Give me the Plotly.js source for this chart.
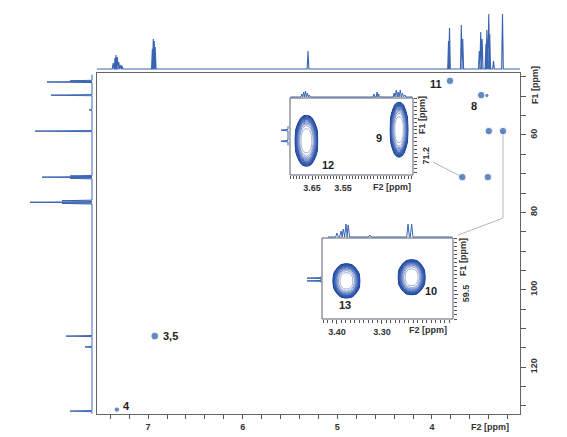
<!DOCTYPE html>
<html><head><meta charset="utf-8">
<script src="https://cdn.plot.ly/plotly-3.0.1.min.js"></script>
<style>html,body{margin:0;padding:0;background:#fff}#chart{width:567px;height:437px}</style>
</head><body><div id="chart"></div>
<script>
// ---------------- data ----------------
// HSQC cross peaks (F2 = 1H ppm, F1 = 13C ppm)
const peakF2 = [3.81, 3.48, 3.42, 3.40, 3.25, 3.68, 3.41, 6.93, 7.33];
const peakF1 = [46.0, 49.7, 49.8, 59.0, 59.0, 70.9, 70.9, 112.0, 131.0];
const peakRel = [1, 1, 0.35, 1, 1, 1, 1, 1.05, 0.55];

// 1H projection (top)
const h1Shift = [7.37, 7.35, 7.34, 7.325, 7.31, 7.29, 7.275, 6.955, 6.945, 6.935, 6.925, 5.31,
                 3.825, 3.815, 3.69, 3.675, 3.50, 3.485, 3.47, 3.43, 3.42, 3.40, 3.39, 3.35, 3.255];
const h1Int   = [6, 11, 14, 12, 7, 4, 3, 20, 30, 28, 22, 18,
                 28, 41, 44, 30, 18, 37, 30, 25, 39, 55, 35, 8, 55];

// 13C projection (left)
const c13Shift = [46.0, 46.3, 49.7, 53.5, 59.0, 70.6, 70.9, 71.2, 77.0, 77.4, 77.7, 112.0, 114.8, 131.4];
const c13Int   = [22, 45, 41, 3, 57, 22, 50, 22, 30, 62, 30, 26, 7, 22];

// inset 1 projections
const in1HShift = [3.683, 3.677, 3.671, 3.665, 3.659, 3.45, 3.44, 3.435, 3.385, 3.378, 3.372, 3.365, 3.358, 3.35];
const in1HInt   = [3, 5, 6, 4, 2, 3, 5, 3, 4, 7, 5, 7, 4, 2];
const in1CShift = [70.854, 70.995];
const in1CInt   = [7, 7];

// inset 2 projections
const in2HShift = [3.400, 3.391, 3.386, 3.380, 3.375, 3.327, 3.242, 3.234];
const in2HInt   = [4, 6, 8, 13, 12, 2, 13, 13];
const in2CShift = [59.29, 59.325];
const in2CInt   = [14, 14];

// inset contour peaks
const cpLabel  = ['12', '9', '13', '10'];
const cpF2     = [3.668, 3.369, 3.379, 3.234];
const cpF1     = [70.99, 70.847, 59.325, 59.28];
const cpHalfF2 = [0.038, 0.030, 0.031, 0.031];
const cpHalfF1 = [0.335, 0.36, 0.22, 0.225];
const shapeGrid = [-1, -0.8, -0.6, -0.4, -0.2, 0, 0.2, 0.4, 0.6, 0.8, 1];
const peakShape = [
  [-2, -2, -2, -2, -0.8, 0, -0.8, -2, -2, -2, -2],
  [-2, -2, 0, 3.6, 5.4, 5.9, 5.4, 3.6, 0, -2, -2],
  [-2, 0, 4.8, 7.3, 8.4, 8.7, 8.4, 7.3, 4.8, 0, -2],
  [-2, 3.6, 7.3, 9.0, 9.6, 9.7, 9.6, 9.0, 7.3, 3.6, -2],
  [-0.8, 5.4, 8.4, 9.6, 9.9, 10, 9.9, 9.6, 8.4, 5.4, -0.8],
  [0, 5.9, 8.7, 9.7, 10, 10, 10, 9.7, 8.7, 5.9, 0],
  [-0.8, 5.4, 8.4, 9.6, 9.9, 10, 9.9, 9.6, 8.4, 5.4, -0.8],
  [-2, 3.6, 7.3, 9.0, 9.6, 9.7, 9.6, 9.0, 7.3, 3.6, -2],
  [-2, 0, 4.8, 7.3, 8.4, 8.7, 8.4, 7.3, 4.8, 0, -2],
  [-2, -2, 0, 3.6, 5.4, 5.9, 5.4, 3.6, 0, -2, -2],
  [-2, -2, -2, -2, -0.8, 0, -0.8, -2, -2, -2, -2]
];

// ---------------- helpers ----------------
const W = 567, H = 437;
const px = v => v / W, py = v => 1 - v / H;
const BLUE = '#2456a6';
const SPEC = '#3a64b2';

function sticks(shifts, ints, halfw, from, to) {
  const idx = shifts.map((s, i) => i).sort((a, b) => shifts[a] - shifts[b]);
  const pos = [Math.min(from, to)], val = [0];
  idx.forEach(i => { pos.push(shifts[i] - halfw, shifts[i], shifts[i] + halfw); val.push(0, ints[i], 0); });
  pos.push(Math.max(from, to)); val.push(0);
  return {pos, val};
}

const traces = [];
// main cross peaks
traces.push({type: 'scatter', mode: 'markers', x: peakF2, y: peakF1, xaxis: 'x', yaxis: 'y',
  marker: {color: BLUE, size: peakRel.map(r => 2.5 + 5 * r)}, hoverinfo: 'skip'});
// top 1H
const specTop = sticks(h1Shift, h1Int, 0.009, 7.54, 3.07);
traces.push({type: 'scatter', mode: 'lines', x: specTop.pos, y: specTop.val, xaxis: 'x', yaxis: 'y2',
  line: {color: SPEC, width: 1.1}, hoverinfo: 'skip'});
// left 13C
const specLeft = sticks(c13Shift, c13Int, 0.15, 44.4, 132.1);
traces.push({type: 'scatter', mode: 'lines', x: specLeft.val, y: specLeft.pos, xaxis: 'x2', yaxis: 'y',
  line: {color: SPEC, width: 1}, hoverinfo: 'skip'});
// inset 1 projections
const i1t = sticks(in1HShift, in1HInt, 0.003, 3.72, 3.325);
traces.push({type: 'scatter', mode: 'lines', x: i1t.pos, y: i1t.val, xaxis: 'x3', yaxis: 'y4',
  line: {color: SPEC, width: 1}, hoverinfo: 'skip'});
const i1l = sticks(in1CShift, in1CInt, 0.01, 70.80, 71.05);
traces.push({type: 'scatter', mode: 'lines', x: i1l.val, y: i1l.pos, xaxis: 'x4', yaxis: 'y3',
  line: {color: SPEC, width: 1}, hoverinfo: 'skip'});
// inset 2 projections
const i2t = sticks(in2HShift, in2HInt, 0.003, 3.42, 3.143);
traces.push({type: 'scatter', mode: 'lines', x: i2t.pos, y: i2t.val, xaxis: 'x5', yaxis: 'y6',
  line: {color: SPEC, width: 1}, hoverinfo: 'skip'});
const i2l = sticks(in2CShift, in2CInt, 0.006, 59.27, 59.345);
traces.push({type: 'scatter', mode: 'lines', x: i2l.val, y: i2l.pos, xaxis: 'x6', yaxis: 'y5',
  line: {color: SPEC, width: 1}, hoverinfo: 'skip'});
// contour peaks
cpLabel.forEach((lab, i) => {
  const inset1 = i < 2;
  traces.push({type: 'contour', name: lab,
    x: shapeGrid.map(u => cpF2[i] + cpHalfF2[i] * u),
    y: shapeGrid.map(v => cpF1[i] + cpHalfF1[i] * v),
    z: peakShape,
    xaxis: inset1 ? 'x3' : 'x5', yaxis: inset1 ? 'y3' : 'y5',
    autocontour: false,
    contours: {coloring: 'lines', start: 0.4, end: 9.9, size: 0.6},
    line: {width: 1, smoothing: 1.3},
    colorscale: [[0, '#1a449c'], [0.6, '#3d62b4'], [1, '#9aaad6']],
    showscale: false, hoverinfo: 'skip'});
});

const tickFont = {family: 'Liberation Sans, Arial, sans-serif', size: 9, color: '#333', weight: 'bold'};
const frame = {showline: true, mirror: true, linecolor: '#666', linewidth: 1, showgrid: false, zeroline: false,
  ticks: 'outside', tickcolor: '#555', tickfont: tickFont};
const insetAx = {showline: false, showgrid: false, zeroline: false,
  ticks: 'outside', tickcolor: '#555', tickfont: tickFont};
const hidden = {visible: false, showgrid: false, zeroline: false};

const annFont = {family: 'Liberation Sans, Arial, sans-serif', size: 11, color: '#222', weight: 'bold'};
function txt(t, x, y, opts) {
  return Object.assign({text: t, x: px(x), y: py(y), xref: 'paper', yref: 'paper', showarrow: false,
    font: annFont, xanchor: 'center', yanchor: 'middle'}, opts || {});
}
const axFont = Object.assign({}, tickFont);
function box(xa, ya) {
  return {type: 'rect', xref: xa + ' domain', yref: ya + ' domain', x0: 0, x1: 1, y0: 0, y1: 1,
    line: {color: '#5a5f6e', width: 1}, fillcolor: 'rgba(0,0,0,0)', layer: 'above'};
}

const layout = {
  width: W, height: H, margin: {l: 0, r: 0, t: 0, b: 0},
  paper_bgcolor: '#fff', plot_bgcolor: '#fff', showlegend: false,
  xaxis: Object.assign({}, frame, {domain: [px(97), px(520)], range: [7.54, 3.07], anchor: 'y',
    tickmode: 'linear', tick0: 0, dtick: 1, ticklen: 4,
    minor: {tickmode: 'linear', tick0: 0, dtick: 0.2, ticks: 'outside', ticklen: 4, tickcolor: '#555'}}),
  yaxis: Object.assign({}, frame, {domain: [py(414), py(73)], range: [132.15, 43.97], anchor: 'x', side: 'right',
    tickmode: 'linear', tick0: 0, dtick: 20, ticklen: 5, tickangle: -90,
    minor: {tickmode: 'linear', tick0: 0, dtick: 5, ticks: 'outside', ticklen: 5, tickcolor: '#555'}}),
  yaxis2: Object.assign({}, hidden, {domain: [py(70), py(8)], range: [-1, 61], anchor: 'x'}),
  xaxis2: Object.assign({}, hidden, {domain: [px(28), px(93)], range: [64, -1], anchor: 'y'}),
  xaxis3: Object.assign({}, insetAx, {domain: [px(290), px(413)], range: [3.721, 3.324], anchor: 'y3',
    tickmode: 'array', tickvals: [3.65, 3.55], ticktext: ['3.65', '3.55'], ticklen: 4,
    minor: {tickmode: 'linear', tick0: 0, dtick: 0.01, ticks: 'outside', ticklen: 2.5, tickcolor: '#555'}}),
  yaxis3: Object.assign({}, insetAx, {domain: [py(175), py(98)], range: [71.43, 70.44], anchor: 'x3', side: 'right',
    tickmode: 'array', tickvals: [71.2], ticktext: ['71.2'], ticklen: 4, tickangle: -90,
    minor: {tickmode: 'linear', tick0: 0, dtick: 0.05, ticks: 'outside', ticklen: 3, tickcolor: '#555'}}),
  yaxis4: Object.assign({}, hidden, {domain: [py(98), py(84)], range: [-1, 13], anchor: 'x3'}),
  xaxis4: Object.assign({}, hidden, {domain: [px(275), px(289)], range: [13, -1], anchor: 'y3'}),
  xaxis5: Object.assign({}, insetAx, {domain: [px(322), px(453)], range: [3.4333, 3.142], anchor: 'y5',
    tickmode: 'array', tickvals: [3.40, 3.30], ticktext: ['3.40', '3.30'], ticklen: 4,
    minor: {tickmode: 'linear', tick0: 0, dtick: 0.01, ticks: 'outside', ticklen: 2.5, tickcolor: '#555'}}),
  yaxis5: Object.assign({}, insetAx, {domain: [py(319), py(238)], range: [59.8, 58.79], anchor: 'x5', side: 'right',
    tickmode: 'array', tickvals: [59.5], ticktext: ['59.5'], ticklen: 4, tickangle: -90,
    minor: {tickmode: 'linear', tick0: 0, dtick: 0.05, ticks: 'outside', ticklen: 3, tickcolor: '#555'}}),
  yaxis6: Object.assign({}, hidden, {domain: [py(238), py(221)], range: [-1, 16], anchor: 'x5'}),
  xaxis6: Object.assign({}, hidden, {domain: [px(305), px(322)], range: [16, -1], anchor: 'y5'}),
  shapes: [
    {type: 'line', xref: 'x', yref: 'y', x0: 3.99, y0: 67.0, x1: 3.68, y1: 70.9,
      line: {color: '#b5b5b5', width: 1}, layer: 'below'},
    {type: 'path', xref: 'x', yref: 'y', path: 'M 3.25,59 L 3.25,81.5 L 3.727,85.9',
      line: {color: '#b5b5b5', width: 1}, layer: 'below'},
    box('x3', 'y3'), box('x5', 'y5')
  ],
  annotations: [
    txt('11', 436, 84), txt('8', 474, 106), txt('3,5', 170, 336), txt('4', 126, 406),
    txt('12', 328, 165), txt('9', 379, 138), txt('13', 345, 305), txt('10', 431, 291),
    txt('F2 [ppm]', 490, 427, {font: axFont}),
    txt('F2 [ppm]', 392, 187, {font: axFont}),
    txt('F2 [ppm]', 428, 330, {font: axFont}),
    txt('F1 [ppm]', 535, 85, {font: axFont, textangle: -90}),
    txt('F1 [ppm]', 422, 115, {font: axFont, textangle: -90}),
    txt('F1 [ppm]', 463, 257, {font: axFont, textangle: -90})
  ]
};

Plotly.newPlot('chart', traces, layout, {displayModeBar: false, staticPlot: true});
</script></body></html>
